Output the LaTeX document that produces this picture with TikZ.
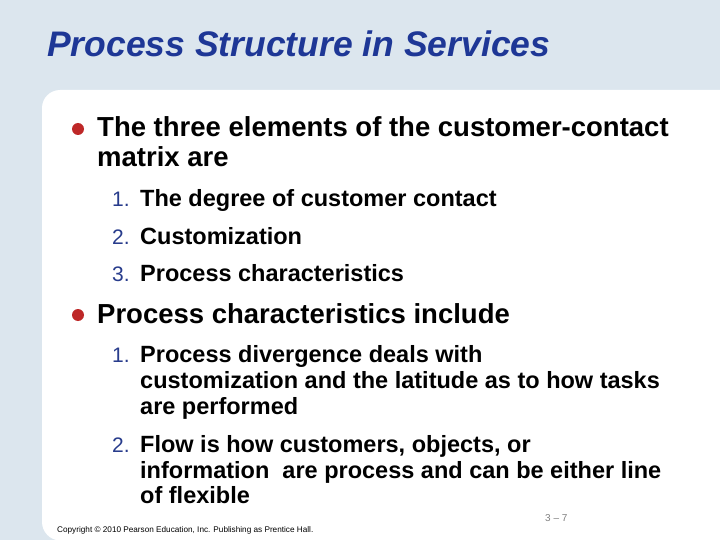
\documentclass[tikz,border=0pt]{standalone}
\usepackage{fontspec}
\setmainfont{Liberation Sans}
\definecolor{bgblue}{RGB}{220,230,238}
\definecolor{ttl}{RGB}{30,55,150}
\definecolor{num}{RGB}{40,60,140}
\definecolor{bul}{RGB}{190,40,40}
\begin{document}
\begin{tikzpicture}[x=1pt,y=-1pt,
  txt/.style={anchor=base west,inner sep=0pt},
  big/.style={txt,font=\fontsize{27.5}{30}\selectfont\bfseries},
  small/.style={txt,font=\fontsize{23.5}{26}\selectfont\bfseries},
  numb/.style={txt,font=\fontsize{21}{24}\selectfont,text=num},
  dot/.style={circle,fill=bul,minimum size=12pt,inner sep=0pt}]
\useasboundingbox (0,0) rectangle (720,540);
\fill[bgblue] (0,0) rectangle (720,540);
\fill[white,rounded corners=18pt] (42,540) -- (42,90) -- (740,90) -- (740,560) -- cycle;
\node[txt,font=\fontsize{35.5}{38}\selectfont\bfseries\itshape,text=ttl] (title) at (47,57) {Process Structure in Services};
\node[dot] (b1) at (78,129) {};
\node[big] (t1) at (97,137) {The three elements of the customer-contact};
\node[big] (t1b) at (97,167) {matrix are};
\node[numb] (n1) at (112,207) {1.};
\node[small] (s1) at (140,207) {The degree of customer contact};
\node[numb] (n2) at (112,244) {2.};
\node[small] (s2) at (140,244) {Customization};
\node[numb] (n3) at (112,281) {3.};
\node[small] (s3) at (140,281) {Process characteristics};
\node[dot] (b2) at (78,315) {};
\node[big] (t2) at (97,323) {Process characteristics include};
\node[numb] (n4) at (112,362) {1.};
\node[small] (s4a) at (140,362) {Process divergence deals with};
\node[small] (s4b) at (140,388) {customization and the latitude as to how tasks};
\node[small] (s4c) at (140,414) {are performed};
\node[numb] (n5) at (112,452) {2.};
\node[small] (s5a) at (140,452) {Flow is how customers, objects, or};
\node[small] (s5b) at (140,478) {information\ \ are process and can be either line};
\node[small] (s5c) at (140,503) {of flexible};
\node[txt,font=\fontsize{10}{12}\selectfont,text=gray] (pg) at (545,521) {3 -- 7};
\node[txt,font=\fontsize{8.2}{10}\selectfont] (cp) at (57,532) {Copyright © 2010 Pearson Education, Inc. Publishing as Prentice Hall.};
\end{tikzpicture}
\end{document}
